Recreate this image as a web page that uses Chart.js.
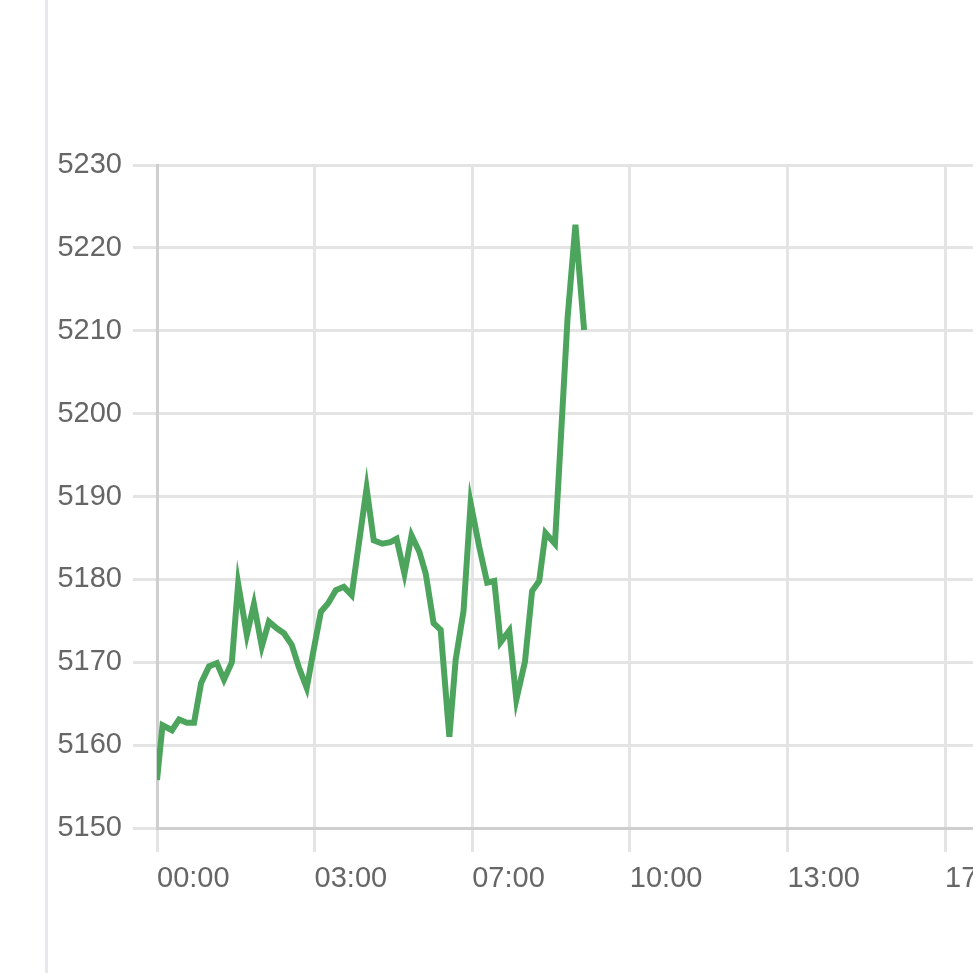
<!DOCTYPE html>
<html>
<head>
<meta charset="utf-8">
<script src="https://cdn.jsdelivr.net/npm/chart.js@4.4.1/dist/chart.umd.min.js"></script>
<style>
  html, body { margin: 0; padding: 0; background: #fff; overflow: hidden; width: 973px; height: 973px; }
  #rail { position: absolute; left: 45px; top: 0; width: 3px; height: 973px; background: #e8e8ec; }
  #wrap { position: absolute; left: 48px; top: 0; width: 1216px; height: 973px; }
</style>
</head>
<body>
<div id="rail"></div>
<div id="wrap"><canvas id="chart" width="1216" height="973"></canvas></div>
<script>
// minutes since 00:00
const minutes = [0, 7, 19, 28, 38, 47, 56, 66, 76, 85, 95, 103, 114, 123, 133, 142, 152, 161, 171, 180,
  190, 198, 208, 217, 227, 237, 247, 266, 275, 286, 296, 304, 314, 323, 333, 341, 351, 360, 371, 379,
  389, 398, 409, 419, 428, 436, 447, 456, 467, 476, 485, 493, 505, 521, 531, 542];
const prices = [5155.8, 5162.4, 5161.8, 5163.1, 5162.7, 5162.7, 5167.5, 5169.5, 5169.9, 5167.9,
  5170.0, 5179.5, 5173.3, 5177.0, 5171.9, 5174.9, 5174.1, 5173.5, 5172.1, 5169.4,
  5166.9, 5171.1, 5176.1, 5177.1, 5178.7, 5179.1, 5178.1, 5191.0, 5184.7, 5184.3,
  5184.5, 5184.9, 5180.7, 5185.3, 5183.3, 5180.7, 5174.7, 5173.9, 5161.0, 5170.3,
  5176.2, 5189.2, 5183.9, 5179.6, 5179.8, 5172.4, 5173.8, 5165.5, 5170.1, 5178.6,
  5179.8, 5185.6, 5184.3, 5211.5, 5222.8, 5210.1];
const yTicks = [5150, 5160, 5170, 5180, 5190, 5200, 5210, 5220, 5230];

const points = minutes.map((m, i) => ({ x: m, y: prices[i] }));

const ctx = document.getElementById("chart").getContext("2d");
new Chart(ctx, {
  type: "line",
  data: {
    datasets: [{
      data: points,
      borderColor: "#4da55d",
      borderWidth: 6,
      pointRadius: 0,
      tension: 0,
      fill: false,
    }],
  },
  options: {
    responsive: false,
    animation: false,
    layout: { padding: { top: 165, right: 0, bottom: 60, left: 0 } },
    plugins: { legend: { display: false }, tooltip: { enabled: false } },
    scales: {
      x: {
        type: "linear",
        min: 0,
        max: 1300,
        grid: { color: "#e4e4e4", lineWidth: 3, tickLength: 24 },
        border: { color: "#cfcfcf", width: 3 },
        ticks: {
          stepSize: 200,
          align: "start",
          maxRotation: 0,
          autoSkip: false,
          padding: 10,
          color: "#666",
          font: { family: "Liberation Sans", size: 29 },
          callback: (v) => String(Math.round(v / 60)).padStart(2, "0") + ":00",
        },
        afterFit: (s) => { s.height = 85; },
      },
      y: {
        min: yTicks[0],
        max: yTicks[yTicks.length - 1],
        afterBuildTicks: (s) => { s.ticks = yTicks.map((v) => ({ value: v })); },
        grid: { color: "#e4e4e4", lineWidth: 3, tickLength: 24 },
        border: { color: "#cfcfcf", width: 3 },
        ticks: {
          padding: 11,
          color: "#666",
          font: { family: "Liberation Sans", size: 29 },
          callback: (v) => String(v),
        },
        afterFit: (s) => { s.width = 109; },
      },
    },
  },
});
</script>
</body>
</html>
